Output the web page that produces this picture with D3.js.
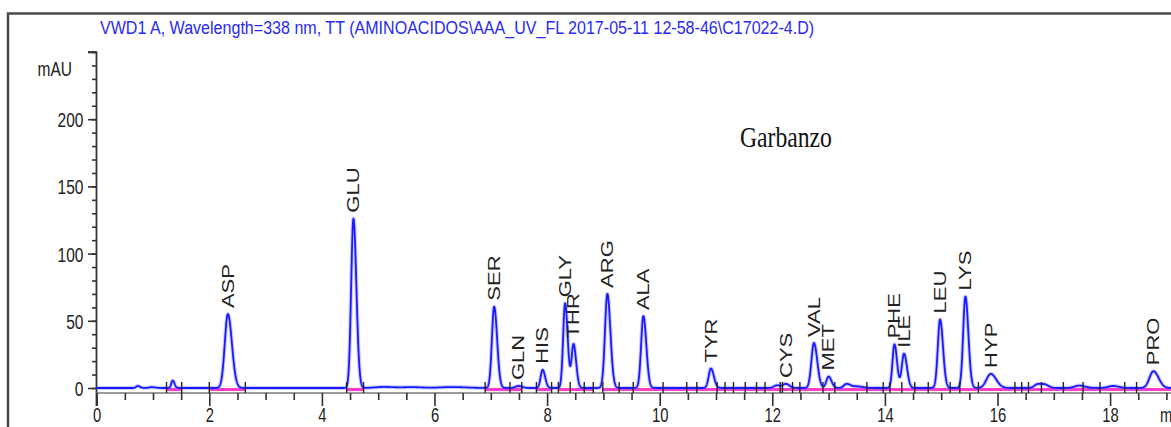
<!DOCTYPE html>
<html>
<head>
<meta charset="utf-8">
<script src="https://cdn.jsdelivr.net/npm/d3@7"></script>
<style>
  html, body { margin: 0; padding: 0; background: #fff; }
  svg { display: block; }
  text { font-family: "Liberation Sans", Arial, Helvetica, sans-serif; }
  text.serif { font-family: "Liberation Serif", "Times New Roman", serif; }
</style>
</head>
<body>
<svg id="chart" width="1171" height="427"></svg>
<script>
// Amino-acid peaks: retention time (min), height (mAU), peak width (sigma, min)
const peakNames   = ["ASP","GLU","SER","GLN","HIS","GLY","THR","ARG","ALA","TYR","CYS","VAL","MET","PHE","ILE","LEU","LYS","HYP","PRO"];
const peakTimes   = [2.33, 4.56, 7.06, 7.49, 7.92, 8.32, 8.47, 9.07, 9.71, 10.91, 12.24, 12.74, 13.00, 14.17, 14.34, 14.98, 15.43, 15.88, 18.77];
const peakHeights = [55, 126, 60.5, 1.5, 13.5, 63, 32.5, 70, 53.5, 14.5, 3, 33.5, 8.5, 32.5, 25.5, 51, 68, 10.5, 12.5];
const peakWidths  = [0.055, 0.04, 0.04, 0.05, 0.035, 0.035, 0.035, 0.042, 0.04, 0.04, 0.05, 0.045, 0.04, 0.035, 0.04, 0.04, 0.04, 0.075, 0.07];

// Small unlabelled signals along the baseline
const minorTimes   = [0.73, 0.98, 1.35, 5.1, 5.6, 6.3, 12.08, 13.32, 13.5, 16.72, 16.85, 17.45, 18.05];
const minorHeights = [1.5, 0.6, 5.5, 0.8, 0.6, 0.7, 2, 3, 1.2, 3, 2, 1.8, 1.5];
const minorWidths  = [0.03, 0.05, 0.025, 0.15, 0.15, 0.2, 0.05, 0.05, 0.08, 0.06, 0.05, 0.08, 0.08];

// Integration events (peak start / end markers) and integrated baseline spans
const markerTimes = [1.24,1.51,2.0,2.64,4.44,4.74,6.90,7.34,7.55,7.81,8.08,8.20,8.41,8.66,8.82,8.99,9.28,9.53,10.06,10.48,10.66,11.02,11.16,11.31,11.52,11.72,11.87,12.14,12.18,12.36,12.49,12.9,13.11,13.68,13.97,14.09,14.3,14.53,14.77,15.16,15.33,15.66,16.31,16.43,16.55,16.78,17.17,17.52,17.82,18.26,18.47];
const baselineStart = [1.24, 2.0, 4.44, 6.90, 7.34, 7.81, 8.20, 8.99];
const baselineEnd   = [1.51, 2.64, 4.74, 7.34, 7.55, 8.08, 8.82, 19.3];

// Axis ticks
const yMajorTicks = [0, 50, 100, 150, 200];
const xMajorTicks = [0, 2, 4, 6, 8, 10, 12, 14, 16, 18];

const titleText = "VWD1 A, Wavelength=338 nm, TT (AMINOACIDOS\\AAA_UV_FL 2017-05-11 12-58-46\\C17022-4.D)";
const sampleName = "Garbanzo";

const SQ = 0.74; // horizontal squeeze of the printed lettering

const svg = d3.select("#chart");

const x = d3.scaleLinear().domain([0, 19.2]).range([96.7, 96.7 + 19.2 * 56.3]);
const y = d3.scaleLinear().domain([0, 250]).range([388, 52]);

// Outer frame
svg.append("path")
  .attr("d", `M8,440 L8,13.5 L1180,13.5`)
  .attr("fill", "none").attr("stroke", "#4a4a4a").attr("stroke-width", 2.5);

// Title
const title = svg.append("text").attr("x", 100).attr("y", 34.5)
  .attr("font-size", 19).attr("fill", "#2a2af2").text(titleText);
{
  const w = title.node().getComputedTextLength();
  title.attr("transform", `translate(100,0) scale(${715 / w},1) translate(-100,0)`);
}

// Sample name
const sname = svg.append("text").attr("class", "serif").attr("x", 740).attr("y", 147)
  .attr("font-size", 29).attr("fill", "#111").text(sampleName);
{
  const w = sname.node().getComputedTextLength();
  sname.attr("transform", `translate(740,0) scale(${92 / w},1) translate(-740,0)`);
}

// Y axis: minor ticks every 10, major ticks every 50
svg.append("g").attr("transform", "translate(96.5,0)")
  .call(d3.axisLeft(y).tickValues(d3.range(0, 251, 10)).tickSize(4.5).tickSizeOuter(0).tickFormat(""))
  .call(g => g.select(".domain").remove())
  .call(g => g.selectAll("line").attr("stroke", "#333").attr("stroke-width", 1.6));

svg.append("g").attr("transform", "translate(96.5,0)")
  .call(d3.axisLeft(y).tickValues(yMajorTicks.concat([250])).tickSize(8.5).tickSizeOuter(0)
    .tickFormat(d => d === 250 ? "" : d))
  .call(g => g.select(".domain").remove())
  .call(g => g.selectAll("line").attr("stroke", "#333").attr("stroke-width", 1.6))
  .call(g => g.selectAll("text")
    .attr("font-size", 21).attr("fill", "#222")
    .attr("x", -13 / SQ).attr("dy", "0.36em")
    .attr("transform", `scale(${SQ},1)`));

// Axis spine
svg.append("line").attr("x1", 96.5).attr("x2", 96.5).attr("y1", 51.5).attr("y2", 406)
  .attr("stroke", "#333").attr("stroke-width", 1.8);
svg.append("line").attr("x1", 88).attr("x2", 96.5).attr("y1", 52).attr("y2", 52)
  .attr("stroke", "#333").attr("stroke-width", 1.8);

// Unit label
svg.append("text").attr("transform", `translate(72,76) scale(${SQ},1)`)
  .attr("text-anchor", "end").attr("font-size", 21).attr("fill", "#222").text("mAU");

// X axis
const xAxisY = 393;
svg.append("line").attr("x1", 96.5).attr("x2", 1171).attr("y1", xAxisY).attr("y2", xAxisY)
  .attr("stroke", "#7a7a7a").attr("stroke-width", 1.6);

svg.append("g").attr("transform", `translate(0,${xAxisY})`)
  .call(d3.axisBottom(x).tickValues(d3.range(0.5, 19.1, 1)).tickSize(7).tickSizeOuter(0).tickFormat(""))
  .call(g => g.select(".domain").remove())
  .call(g => g.selectAll("line").attr("stroke", "#333").attr("stroke-width", 1.6));
svg.append("g").attr("transform", `translate(0,${xAxisY})`)
  .call(d3.axisBottom(x).tickValues(d3.range(1, 19.1, 2)).tickSize(7).tickSizeOuter(0).tickFormat(""))
  .call(g => g.select(".domain").remove())
  .call(g => g.selectAll("line").attr("stroke", "#333").attr("stroke-width", 1.6));
svg.append("g").attr("transform", `translate(0,${xAxisY})`)
  .call(d3.axisBottom(x).tickValues(xMajorTicks).tickSize(13).tickSizeOuter(0).tickFormat(d3.format("d")))
  .call(g => g.select(".domain").remove())
  .call(g => g.selectAll("line").attr("stroke", "#333").attr("stroke-width", 1.6))
  .call(g => g.selectAll("text")
    .attr("font-size", 20).attr("fill", "#222")
    .attr("y", 29).attr("dy", null)
    .attr("transform", `scale(${SQ},1)`));

svg.append("text").attr("transform", `translate(1160,422) scale(${SQ},1)`)
  .attr("font-size", 20).attr("fill", "#222").text("min");

// Integrated baseline spans
svg.append("g").selectAll("line").data(d3.range(baselineStart.length)).join("line")
  .attr("x1", i => x(baselineStart[i])).attr("x2", i => x(baselineEnd[i]))
  .attr("y1", y(0) + 1.5).attr("y2", y(0) + 1.5)
  .attr("stroke", "#ff3ccc").attr("stroke-width", 3.2);

// Detector signal built from the peak table
const peaks = peakTimes.map((t, i) => ({ t, h: peakHeights[i], s: peakWidths[i] }))
  .concat(minorTimes.map((t, i) => ({ t, h: minorHeights[i], s: minorWidths[i] })));

function signal(t) {
  let v = 0;
  for (const p of peaks) {
    const s = t < p.t ? p.s : p.s * 1.3; // slight tailing
    const z = (t - p.t) / s;
    if (Math.abs(z) < 8) v += p.h * Math.exp(-0.5 * z * z);
  }
  return v;
}
const times = d3.range(0, 19.2, 0.004);
const line = d3.line().x(t => x(t)).y(t => y(signal(t)));

svg.append("path").datum(times).attr("d", line)
  .attr("fill", "none").attr("stroke", "#6a6aff").attr("stroke-opacity", 0.35)
  .attr("stroke-width", 4).attr("stroke-linejoin", "round");
svg.append("path").datum(times).attr("d", line)
  .attr("fill", "none").attr("stroke", "#1a1aff")
  .attr("stroke-width", 1.8).attr("stroke-linejoin", "round");

// Integration event markers
svg.append("g").selectAll("line").data(markerTimes).join("line")
  .attr("x1", d => x(d)).attr("x2", d => x(d))
  .attr("y1", y(0) - 6).attr("y2", y(0) + 5)
  .attr("stroke", "#222").attr("stroke-width", 1.4);

// Peak labels, rotated, above each apex
svg.append("g").selectAll("g").data(d3.range(peakNames.length)).join("g")
  .attr("transform", i => `translate(${x(peakTimes[i])},${y(peakHeights[i]) - 6}) scale(${SQ},1) rotate(-90)`)
  .append("text")
  .attr("dy", "0.36em")
  .attr("font-size", 22).attr("fill", "#222")
  .text(i => peakNames[i]);
</script>
</body>
</html>
